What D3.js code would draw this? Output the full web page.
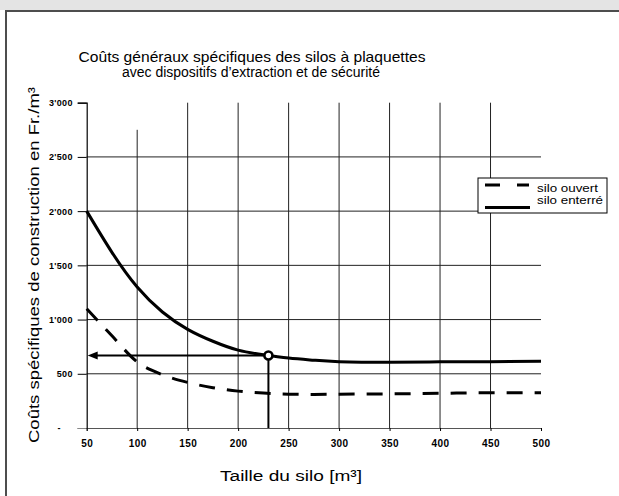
<!DOCTYPE html>
<html>
<head>
<meta charset="utf-8">
<script src="https://cdn.jsdelivr.net/npm/d3@7"></script>
<style>
  body { margin: 0; background: #fff; }
  svg { display: block; }
  text { font-family: "Liberation Sans", Arial, sans-serif; fill: #000; }
</style>
</head>
<body>
<svg id="chart" width="619" height="496"></svg>
<script>
// Silo size (m³) and specific construction cost (Fr./m³)
const sizes      = [50, 75, 100, 125, 150, 175, 200, 225, 250, 275, 300, 350, 400, 450, 500];
const costOpen   = [1100, 850, 610, 492, 420, 372, 340, 322, 312, 310, 312, 315, 320, 325, 325];
const costBuried = [2000, 1620, 1300, 1070, 910, 800, 718, 675, 645, 625, 612, 607, 610, 612, 615];

const seriesNames = ["silo ouvert", "silo enterré"];
const xTicks = [50, 100, 150, 200, 250, 300, 350, 400, 450, 500];
const yTicks = [0, 500, 1000, 1500, 2000, 2500, 3000];

// Reading example: a 230 m³ buried silo
const readSize = 230;
const readCost = 668;

const titleLines = ["Coûts généraux spécifiques des silos à plaquettes",
                    "avec dispositifs d’extraction et de sécurité"];
const xTitle = "Taille du silo [m³]";
const yTitle = "Coûts spécifiques de construction en Fr./m³";

const svg = d3.select("#chart");
const W = 619, H = 496;

// window frame
svg.append("rect").attr("x", 0).attr("y", 0).attr("width", W).attr("height", 10).attr("fill", "#e4e4e4");
svg.append("line").attr("x1", 5).attr("x2", W).attr("y1", 11).attr("y2", 11)
  .attr("stroke", "#4d4d4d").attr("stroke-width", 2);
svg.append("line").attr("x1", 6).attr("x2", 6).attr("y1", 10).attr("y2", H)
  .attr("stroke", "#4d4d4d").attr("stroke-width", 2);

const x = d3.scaleLinear().domain([50, 500]).range([86.7, 541]);
const y = d3.scaleLinear().domain([0, 3000]).range([428, 102.7]);

const swiss = d3.formatLocale({ decimal: ".", thousands: "'", grouping: [3], currency: ["", ""] });
const fmt = swiss.format(",");

// grid
const grid = svg.append("g").attr("stroke", "#222").attr("stroke-width", 1);
grid.selectAll(".hg").data(yTicks.filter(v => v > 0 && v < 3000)).join("line")
  .attr("x1", x(50)).attr("x2", x(500))
  .attr("y1", d => y(d)).attr("y2", d => y(d));
grid.selectAll(".vg").data(xTicks.filter(v => v > 50 && v < 500)).join("line")
  .attr("x1", d => x(d)).attr("x2", d => x(d))
  .attr("y1", d => d === 100 ? y(2750) : y(3000)).attr("y2", y(0));

// axes
const yAxis = svg.append("g").attr("transform", `translate(${x(50)},0)`)
  .call(d3.axisLeft(y).tickValues(yTicks).tickSize(9).tickPadding(5)
    .tickFormat(d => d === 0 ? "-" : fmt(d)));
yAxis.selectAll("text").attr("font-size", 9).attr("font-weight", "bold")
  .attr("letter-spacing", 0.3)
  .attr("font-family", "'Liberation Sans', Arial, sans-serif");
yAxis.selectAll(".tick").filter(d => d === 0).select("text").attr("x", -26);
yAxis.selectAll(".tick").filter(d => d === 0).select("line").attr("stroke", "#888");
yAxis.select(".domain").attr("stroke-width", 1.2);

const xAxis = svg.append("g").attr("transform", `translate(0,${y(0)})`)
  .call(d3.axisBottom(x).tickValues(xTicks).tickSize(3).tickPadding(9));
xAxis.selectAll("text").attr("font-size", 10).attr("font-weight", "bold")
  .attr("letter-spacing", 0.4)
  .attr("font-family", "'Liberation Sans', Arial, sans-serif");
xAxis.select(".domain").attr("stroke", "#555");

// curves
const lineOpen = d3.line().x(d => x(d[0])).y(d => y(d[1])).curve(d3.curveMonotoneX);
const lineBuried = d3.line().x(d => x(d[0])).y(d => y(d[1])).curve(d3.curveNatural);
svg.append("path").datum(sizes.map((s, i) => [s, costOpen[i]]))
  .attr("d", lineOpen).attr("fill", "none").attr("stroke", "#000")
  .attr("stroke-width", 3).attr("stroke-dasharray", "16,12");
svg.append("path").datum(sizes.map((s, i) => [s, costBuried[i]]))
  .attr("d", lineBuried).attr("fill", "none").attr("stroke", "#000")
  .attr("stroke-width", 3);

// reading lines with arrow to the cost axis
const px = x(readSize), py = y(readCost);
svg.append("line").attr("x1", px).attr("x2", x(50) + 8).attr("y1", py).attr("y2", py)
  .attr("stroke", "#000").attr("stroke-width", 2);
svg.append("line").attr("x1", px).attr("x2", px).attr("y1", py).attr("y2", y(0))
  .attr("stroke", "#000").attr("stroke-width", 2);
svg.append("path")
  .attr("d", `M${x(50) + 1},${py} L${x(50) + 11},${py - 4} L${x(50) + 11},${py + 4} Z`)
  .attr("fill", "#000");
svg.append("circle").attr("cx", px).attr("cy", py).attr("r", 4)
  .attr("fill", "#fff").attr("stroke", "#000").attr("stroke-width", 2.6);

// titles
const title = svg.append("g");
title.append("text").attr("x", 252).attr("y", 62).attr("text-anchor", "middle")
  .attr("font-size", 15).attr("textLength", 347).attr("lengthAdjust", "spacingAndGlyphs")
  .attr("fill", "#111")
  .text(titleLines[0]);
title.append("text").attr("x", 251).attr("y", 77).attr("text-anchor", "middle")
  .attr("font-size", 14).attr("textLength", 258).attr("lengthAdjust", "spacingAndGlyphs")
  .text(titleLines[1]);

svg.append("text").attr("x", 291).attr("y", 481).attr("text-anchor", "middle")
  .attr("font-size", 15.5).attr("textLength", 142).attr("lengthAdjust", "spacingAndGlyphs")
  .attr("fill", "#222")
  .text(xTitle);

svg.append("text").attr("transform", "translate(39,265) rotate(-90)")
  .attr("text-anchor", "middle").attr("font-size", 15.5)
  .attr("textLength", 356).attr("lengthAdjust", "spacingAndGlyphs")
  .attr("fill", "#222")
  .text(yTitle);

// legend
const lg = svg.append("g");
lg.append("rect").attr("x", 478).attr("y", 178).attr("width", 129).attr("height", 35)
  .attr("fill", "#fff").attr("stroke", "#000").attr("stroke-width", 1);
lg.append("line").attr("x1", 485).attr("x2", 529).attr("y1", 185).attr("y2", 185)
  .attr("stroke", "#000").attr("stroke-width", 3).attr("stroke-dasharray", "15,17");
lg.append("line").attr("x1", 485).attr("x2", 530).attr("y1", 207.5).attr("y2", 207.5)
  .attr("stroke", "#000").attr("stroke-width", 3);
lg.selectAll(".lt").data(seriesNames).join("text")
  .attr("x", 537).attr("y", (d, i) => 192 + i * 11.5)
  .attr("font-size", 11)
  .attr("textLength", (d, i) => i === 0 ? 61 : 66).attr("lengthAdjust", "spacingAndGlyphs")
  .text(d => d);
</script>
</body>
</html>
